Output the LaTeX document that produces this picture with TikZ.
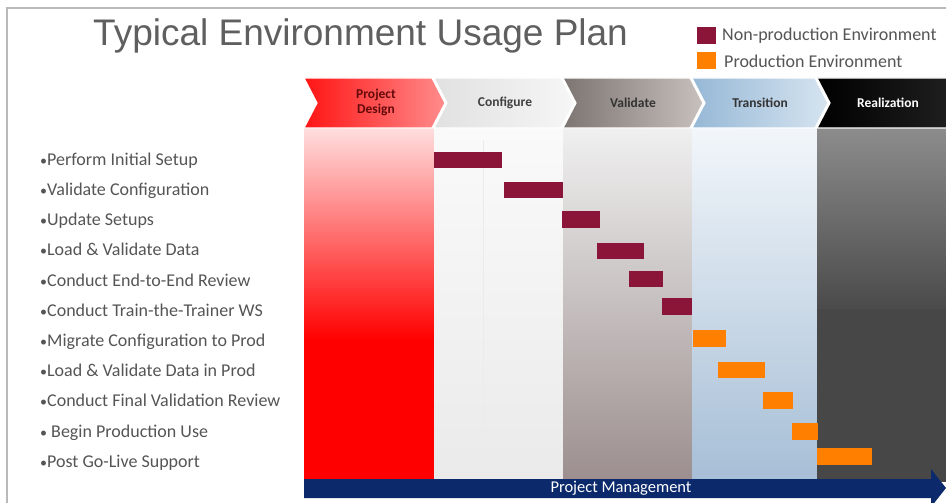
\documentclass[tikz,border=0pt]{standalone}
\usepackage{fontspec}
\setmainfont{Carlito}
\newfontfamily\arialfont{Liberation Sans}
\newcommand{\smbul}{{\fontsize{14}{16}\selectfont•}}
\begin{document}
\begin{tikzpicture}[x=1pt,y=-1pt,
  np/.style={fill=npcol},
  pr/.style={fill=prcol},
  task/.style={anchor=base west,inner sep=0pt,text=txtgray,font=\fontsize{18}{20}\selectfont},
  legtxt/.style={anchor=west,inner sep=0pt,text=txtgray,font=\fontsize{18}{20}\selectfont},
  chevtxt/.style={font=\bfseries\fontsize{13.5}{15}\selectfont,align=center,inner sep=0pt},
  chev/.style={draw=white,line width=1.2pt}
]
\definecolor{npcol}{HTML}{8B1538}
\definecolor{prcol}{HTML}{FF8000}
\definecolor{txtgray}{HTML}{555555}
\definecolor{titlegray}{HTML}{5F5F5F}
\definecolor{navy}{HTML}{0C2A6B}
\useasboundingbox (0,0) rectangle (946,503);
\fill[white] (0,0) rectangle (946,503);
% frame
\draw[gray!55,line width=1.6pt] (7,503) -- (7,8) -- (946,8);

% title
\node[anchor=base west,inner sep=0pt,text=titlegray,font=\arialfont\fontsize{37}{42}\selectfont] (title) at (93,46) {Typical Environment Usage Plan};

% legend
\fill[npcol] (697,27) rectangle (716,44);
\fill[prcol] (697,52) rectangle (716,69);
\node[legtxt] (lg1) at (722,36) {Non-production Environment};
\node[legtxt] (lg2) at (724,61) {Production Environment};

% columns
\shade[top color={rgb,255:red,255;green,222;blue,222},bottom color=red] (304,128) rectangle (434,340);
\fill[red] (304,339) rectangle (434,482);
\shade[top color={rgb,255:red,250;green,250;blue,250},bottom color={rgb,255:red,234;green,234;blue,234}] (434,128) rectangle (563,482);
\draw[black!8,line width=0.8pt] (483,140) -- (483,470);
\shade[top color={rgb,255:red,240;green,240;blue,240},bottom color={rgb,255:red,156;green,142;blue,142}] (563,128) rectangle (692,482);
\shade[top color={rgb,255:red,242;green,246;blue,250},bottom color={rgb,255:red,166;green,190;blue,214}] (692,128) rectangle (817,482);
\shade[top color={rgb,255:red,140;green,140;blue,140},bottom color={rgb,255:red,74;green,74;blue,74}] (817,128) rectangle (946,310);
\fill[black!72] (817,309) rectangle (946,482);

% chevrons
\shade[chev,left color={rgb,255:red,255;green,20;blue,20},right color={rgb,255:red,255;green,140;blue,140}]
  (304,78) -- (432,78) -- (445,103) -- (432,128) -- (304,128) -- (317,103) -- cycle;
\shade[chev,left color={rgb,255:red,225;green,225;blue,225},right color={rgb,255:red,246;green,246;blue,246}]
  (434,78) -- (561,78) -- (574,103) -- (561,128) -- (434,128) -- (447,103) -- cycle;
\shade[chev,left color={rgb,255:red,125;green,117;blue,113},right color={rgb,255:red,200;green,192;blue,188}]
  (563,78) -- (690,78) -- (703,103) -- (690,128) -- (563,128) -- (576,103) -- cycle;
\shade[chev,left color={rgb,255:red,150;green,184;blue,214},right color={rgb,255:red,214;green,228;blue,240}]
  (692,78) -- (815,78) -- (828,103) -- (815,128) -- (692,128) -- (705,103) -- cycle;
\shade[chev,left color=black,right color={rgb,255:red,30;green,30;blue,30}]
  (817,78) -- (948,78) -- (948,128) -- (817,128) -- (830,103) -- cycle;

\node[chevtxt,text={rgb,255:red,100;green,10;blue,10}] (c1) at (376,102) {Project\\Design};
\node[chevtxt,text=black!75] (c2) at (505,103) {Configure};
\node[chevtxt,text=black!80] (c3) at (633,103) {Validate};
\node[chevtxt,text=black!80] (c4) at (760,103) {Transition};
\node[chevtxt,text=white] (c5) at (888,103) {Realization};

% tasks
\node[task] (t1) at (40,165) {\smbul Perform Initial Setup};
\node[task] (t2) at (40,195) {\smbul Validate Configuration};
\node[task] (t3) at (40,225) {\smbul Update Setups};
\node[task] (t4) at (40,255) {\smbul Load \& Validate Data};
\node[task] (t5) at (40,286) {\smbul Conduct End-to-End Review};
\node[task] (t6) at (40,316) {\smbul Conduct Train-the-Trainer WS};
\node[task] (t7) at (40,346) {\smbul Migrate Configuration to Prod};
\node[task] (t8) at (40,376) {\smbul Load \& Validate Data in Prod};
\node[task] (t9) at (40,406) {\smbul Conduct Final Validation Review};
\node[task] (t10) at (40,437) {\smbul\ Begin Production Use};
\node[task] (t11) at (40,467) {\smbul Post Go-Live Support};

% bars
\fill[np] (434,152) rectangle (502,168);
\fill[np] (504,182) rectangle (563,198);
\fill[np] (562,211) rectangle (600,228);
\fill[np] (597,243) rectangle (644,259);
\fill[np] (629,271) rectangle (663,287);
\fill[np] (662,298) rectangle (692,315);
\fill[pr] (693,330) rectangle (726,347);
\fill[pr] (718,362) rectangle (765,378);
\fill[pr] (763,392) rectangle (793,409);
\fill[pr] (792,423) rectangle (818,440);
\fill[pr] (817,448) rectangle (872,465);

% project management arrow
\fill[navy] (304,479) -- (931,479) -- (931,469) -- (946,488) -- (931,507) -- (931,498) -- (304,498) -- cycle;
\node[text=white,inner sep=0pt,font=\fontsize{16.5}{18}\selectfont] (pm) at (621,488) {Project Management};
\end{tikzpicture}
\end{document}
